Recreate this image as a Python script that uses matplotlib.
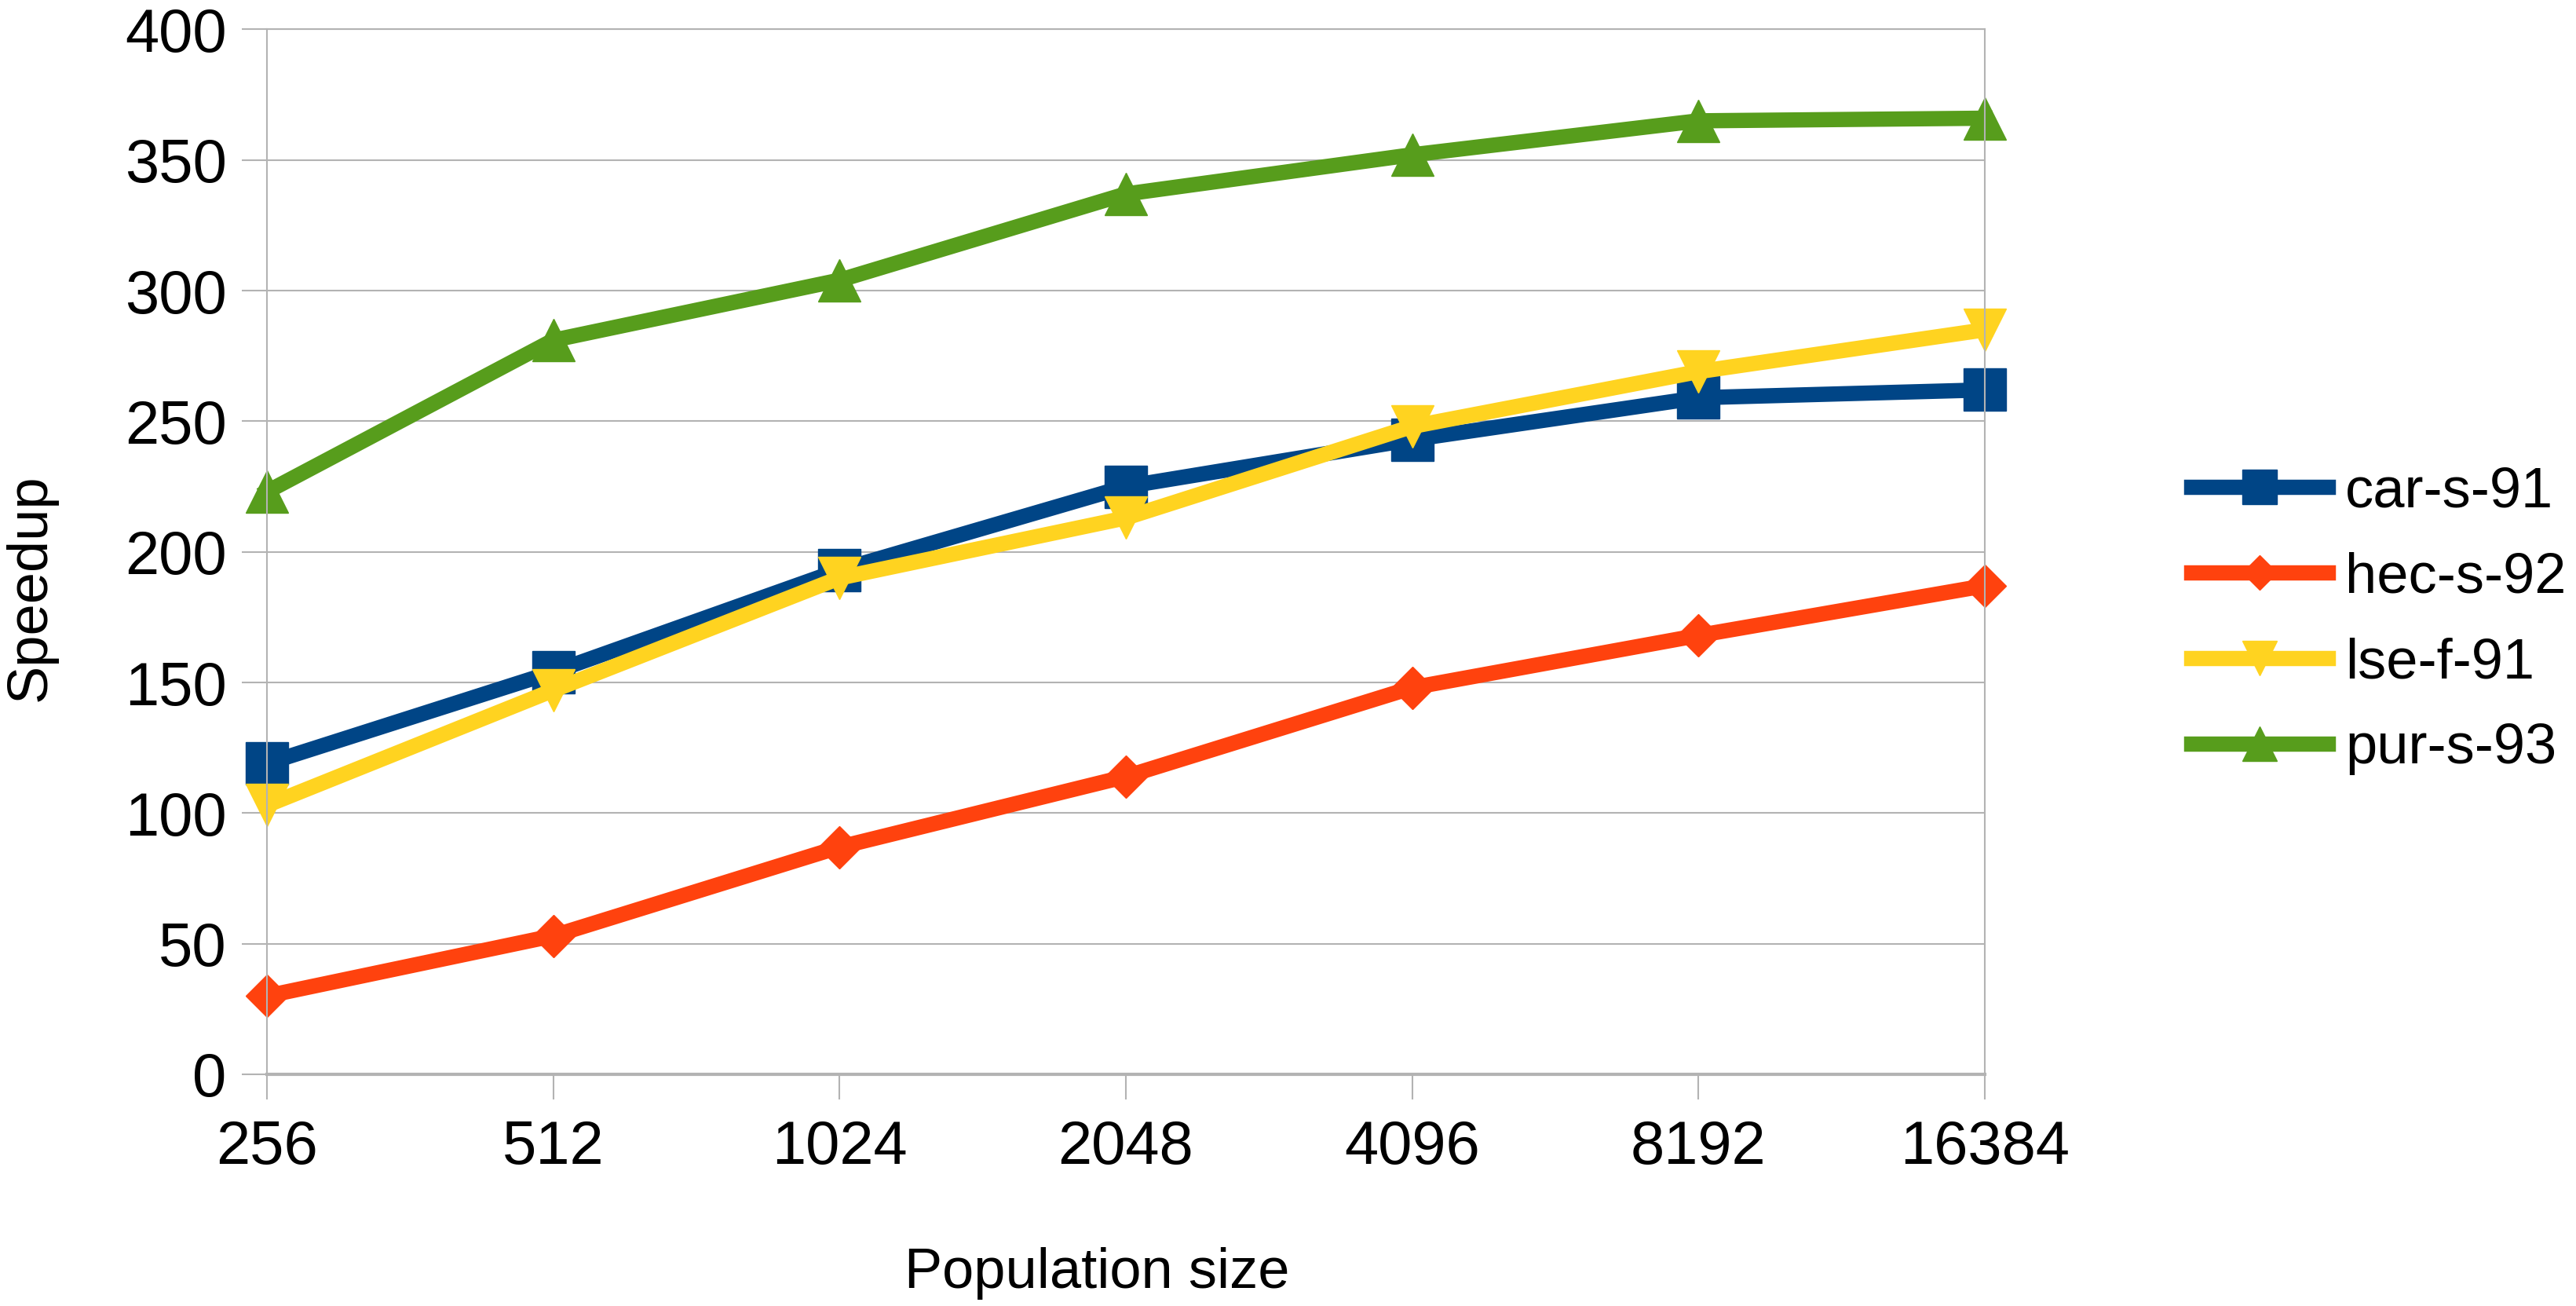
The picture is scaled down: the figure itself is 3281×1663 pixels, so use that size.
import matplotlib.pyplot as plt

plt.rcParams['font.family'] = ['Liberation Sans', 'DejaVu Sans']

population = ['256', '512', '1024', '2048', '4096', '8192', '16384']
car_s_91 = [119, 154, 193, 225, 243, 259, 262]
hec_s_92 = [30, 53, 87, 114, 148, 168, 187]
lse_f_91 = [103, 147, 190, 213, 248, 269, 285]
pur_s_93 = [223, 281, 304, 337, 352, 365, 366]

series = [
    ('car-s-91', car_s_91, '#004586', 's', 39),
    ('hec-s-92', hec_s_92, '#ff420e', 'D', 27),
    ('lse-f-91', lse_f_91, '#ffd320', 'v', 39),
    ('pur-s-93', pur_s_93, '#579d1c', '^', 39),
]

fig = plt.figure(figsize=(32.81, 16.63), dpi=100)
ax = fig.add_axes([0.1036, 0.1774, 0.6669, 0.8001])

x = list(range(len(population)))
for name, vals, color, marker, ms in series:
    ax.plot(x, vals, color=color, lw=14, marker=marker, markersize=ms,
            label=name, clip_on=False, solid_joinstyle='miter')

ax.set_xlim(0, len(population) - 1)
ax.set_ylim(0, 400)
ax.set_xticks(x)
ax.set_xticklabels(population)
ax.set_yticks(range(0, 401, 50))

ax.yaxis.grid(True, color='#b3b3b3', lw=1.5)
ax.set_axisbelow(True)
for side in ['top', 'right', 'left']:
    ax.spines[side].set_color('#b3b3b3')
    ax.spines[side].set_linewidth(1.5)
ax.spines['bottom'].set_color('#b3b3b3')
ax.spines['bottom'].set_linewidth(3)

ax.tick_params(axis='both', labelsize=56, color='#b3b3b3', width=1.5, length=23)
ax.tick_params(axis='x', pad=18)
ax.tick_params(axis='y', pad=14)

ax.set_xlabel('Population size', fontsize=52)
ax.xaxis.set_label_coords(0.483, -0.165)
ax.set_ylabel('Speedup', fontsize=52)
ax.yaxis.set_label_coords(-0.122, 0.466)

ax.legend(loc='center left', bbox_to_anchor=(1.12, 0.434), frameon=False,
          fontsize=52, handlelength=2.42, handletextpad=0.3,
          labelspacing=0.58, markerscale=0.83, borderaxespad=0,
          borderpad=0)

plt.savefig('out.png', dpi=100)
